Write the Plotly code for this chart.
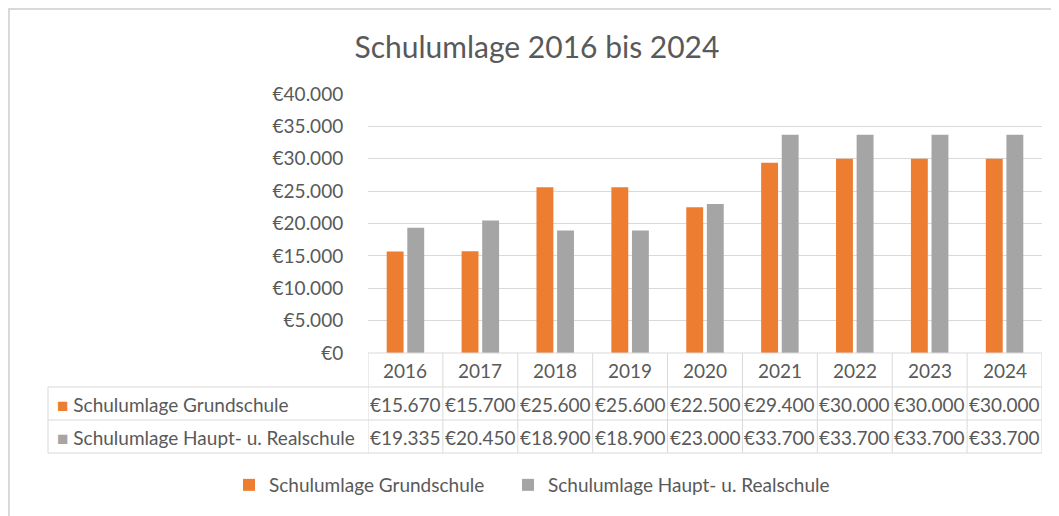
import plotly.graph_objects as go

years = ["2016", "2017", "2018", "2019", "2020", "2021", "2022", "2023", "2024"]
grundschule = [15670, 15700, 25600, 25600, 22500, 29400, 30000, 30000, 30000]
haupt_real = [19335, 20450, 18900, 18900, 23000, 33700, 33700, 33700, 33700]
series_names = ["Schulumlage Grundschule", "Schulumlage Haupt- u. Realschule"]
colors = ["#ED7D31", "#A5A5A5"]
y_ticks = [0, 5000, 10000, 15000, 20000, 25000, 30000, 35000, 40000]

FONT = "Lato"
TXT = "#595959"
GRID = "#D9D9D9"
FS = 19

# page has an 8px body margin; work in screen pixels and subtract it
OFF = 8
W, H = 1059 - OFF, 516 - OFF

def euro(v):
    return "€" + f"{v:,}".replace(",", ".")

fig = go.Figure()
legend_ids = ["legend", "legend2"]
for name, vals, col, lg in zip(series_names, [grundschule, haupt_real], colors, legend_ids):
    fig.add_trace(go.Bar(x=list(range(len(years))), y=vals, name=name, legend=lg,
                         showlegend=True,
                         marker=dict(color=col, line=dict(width=0))))

# plot area in screen pixels: x 368..1042, y 94..353
L, R, T, B = 368, 1042, 94, 353
def px(x):
    return (x - L) / (R - L)
def py(y):
    return (B - y) / (B - T)

shapes = []
annotations = []
n = len(years)
for i in range(n + 1):
    shapes.append(dict(type="line", xref="x", yref="paper", x0=i - 0.5, x1=i - 0.5,
                       y0=py(353), y1=py(453), line=dict(color=GRID, width=1)))
shapes.append(dict(type="line", xref="paper", yref="paper", x0=px(48), x1=px(48),
                   y0=py(387), y1=py(453), line=dict(color=GRID, width=1)))
for yy in [387, 420, 453]:
    shapes.append(dict(type="line", xref="paper", yref="paper", x0=px(48), x1=1,
                       y0=py(yy), y1=py(yy), line=dict(color=GRID, width=1)))
shapes.append(dict(type="line", xref="paper", yref="paper", x0=0, x1=1,
                   y0=0, y1=0, line=dict(color=GRID, width=1)))
shapes.append(dict(type="rect", xref="paper", yref="paper", x0=px(9), x1=px(1075),
                   y0=py(540), y1=py(9), line=dict(color=GRID, width=2), layer="below"))

for i, yr in enumerate(years):
    annotations.append(dict(x=i, y=py(370), xref="x", yref="paper", text=yr, showarrow=False,
                            font=dict(family=FONT, size=FS, color=TXT), xanchor="center", yanchor="middle"))
for r, (name, vals, col) in enumerate(zip(series_names, [grundschule, haupt_real], colors)):
    yc = py(404 if r == 0 else 437)
    annotations.append(dict(x=px(55), y=yc, xref="paper", yref="paper",
                            text=f'<span style="color:{col}">■</span> {name}', showarrow=False,
                            font=dict(family=FONT, size=FS, color=TXT), xanchor="left", yanchor="middle"))
    for i, v in enumerate(vals):
        annotations.append(dict(x=i, y=yc, xref="x", yref="paper", text=euro(v), showarrow=False,
                                font=dict(family=FONT, size=FS, color=TXT), xanchor="center", yanchor="middle"))

legend_style = dict(orientation="h", xanchor="left", xref="paper", yanchor="middle",
                    y=py(485), font=dict(family=FONT, size=FS, color=TXT),
                    itemwidth=30, bgcolor="rgba(0,0,0,0)", visible=True)

fig.update_layout(
    width=W, height=H, showlegend=True,
    margin=dict(l=L - OFF, r=1059 - R, t=T - OFF, b=516 - B, autoexpand=False),
    paper_bgcolor="white", plot_bgcolor="white",
    title=dict(text="Schulumlage 2016 bis 2024", x=(537 - OFF) / W, xanchor="center", xref="container",
               y=1 - (47 - OFF) / H, yanchor="middle", yref="container",
               font=dict(family=FONT, size=30, color=TXT)),
    barmode="group", bargap=0.45, bargroupgap=0.18,
    xaxis=dict(tickvals=list(range(n)), ticktext=years, showticklabels=False,
               range=[-0.5, n - 0.5], showgrid=False, zeroline=False, showline=False),
    yaxis=dict(range=[0, 40000], tickvals=y_ticks, ticktext=[euro(v) for v in y_ticks],
               gridcolor=GRID, gridwidth=1, zeroline=False, showline=False,
               ticks="outside", ticklen=20, tickcolor="rgba(0,0,0,0)",
               tickfont=dict(family=FONT, size=FS, color=TXT)),
    legend=dict(x=px(229), **legend_style),
    legend2=dict(x=px(508), **legend_style),
    shapes=shapes, annotations=annotations,
)

fig.write_html("out.html")
